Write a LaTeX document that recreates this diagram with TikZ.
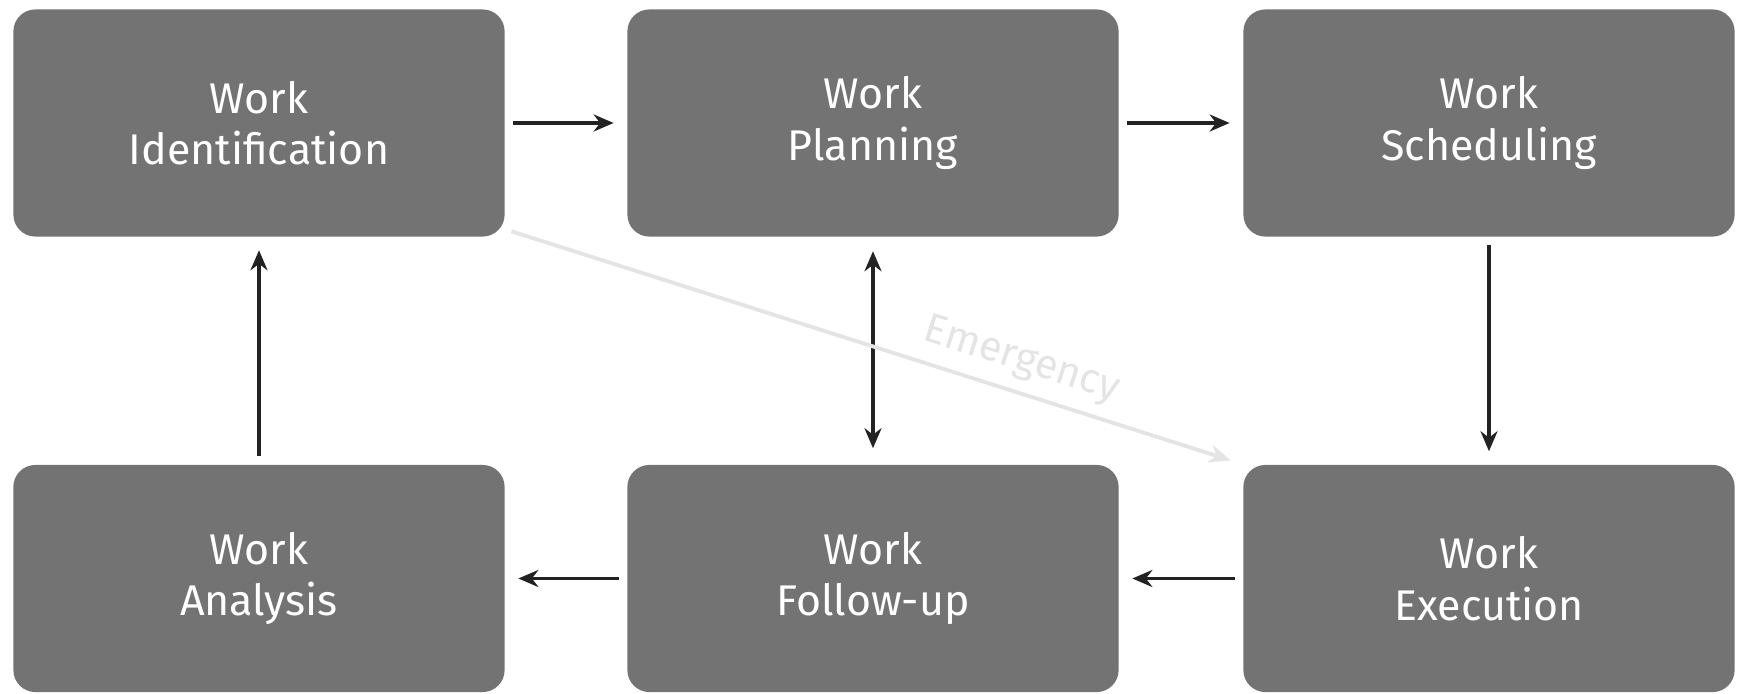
\documentclass[tikz,border=0pt]{standalone}
\usepackage{fontspec}
\setmainfont{Fira Sans}
\usetikzlibrary{arrows.meta,calc}
\definecolor{boxgray}{HTML}{737373}
\definecolor{emgray}{HTML}{E4E4E4}
\definecolor{arrowblack}{HTML}{222222}
\tikzset{
  stage/.style={rectangle, rounded corners=0.22cm, fill=boxgray, minimum width=4.91cm, minimum height=2.27cm, text=white, align=center, font=\fontsize{12.2}{14.6}\selectfont, inner sep=0pt},
  flow/.style={draw=arrowblack, line width=0.95pt, -{Stealth[length=0.2cm,width=0.17cm]}, shorten <=0.08cm, shorten >=0.13cm},
  twoway/.style={draw=arrowblack, line width=0.95pt, {Stealth[length=0.2cm,width=0.17cm]}-{Stealth[length=0.2cm,width=0.17cm]}, shorten <=0.14cm, shorten >=0.16cm},
  emerg/.style={draw=emgray, line width=1.1pt, -{Stealth[length=0.22cm,width=0.18cm]}, shorten >=0.06cm},
}
\begin{document}
\begin{tikzpicture}[x=0.01cm,y=-0.01cm]
\useasboundingbox (0,0) rectangle (1741,694);
\node[stage] (ident) at (259,123) {Work\\Identification};
\node[stage] (plan) at (873,123) {Work\\Planning};
\node[stage] (sched) at (1489,123) {Work\\Scheduling};
\node[stage] (anal) at (259,578.5) {Work\\Analysis};
\node[stage] (follow) at (873,578.5) {Work\\Follow-up};
\node[stage] (exec) at (1489,578.5) {Work\\Execution};
\draw[flow] (ident.east) -- (plan.west);
\draw[flow] (plan.east) -- (sched.west);
\draw[flow] (sched.south) -- (exec.north);
\draw[flow] (exec.west) -- (follow.east);
\draw[flow] (follow.west) -- (anal.east);
\draw[flow] (anal.north) -- (ident.south);
\draw[twoway] (plan.south) -- (follow.north);
\draw[emerg] ($(ident.south east)+(6,-6)$) -- node[pos=0.69, above=3pt, sloped, text=emgray, font=\fontsize{11.8}{14}\selectfont, inner sep=0pt] {Emergency} ($(exec.north west)+(-6,-2)$);
\end{tikzpicture}
\end{document}
